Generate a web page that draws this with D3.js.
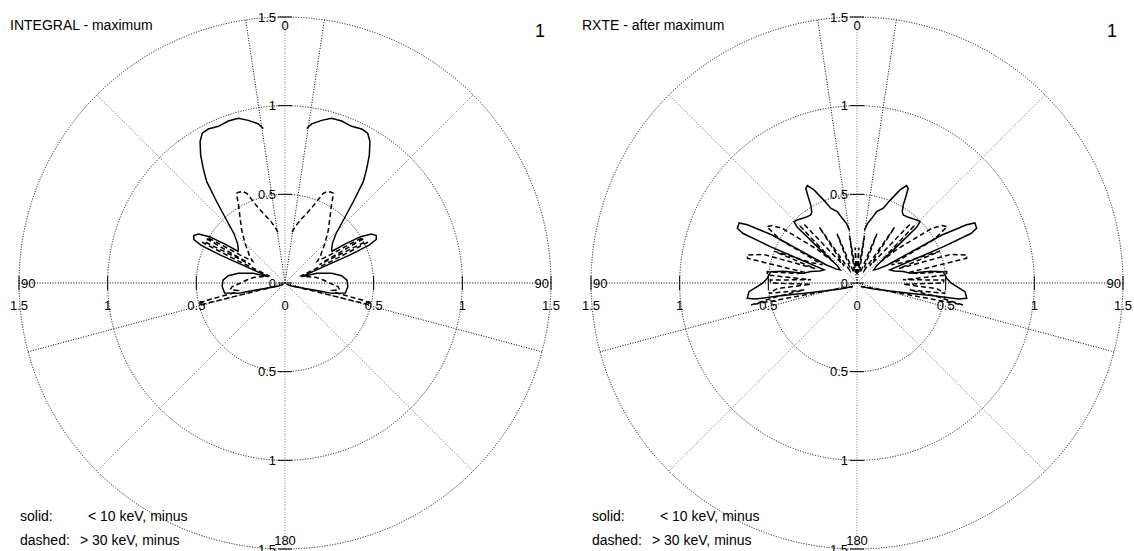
<html>
<meta http-equiv="content-type" content="text/html; charset=UTF8">
<style>
  body {margin:0; background:#fff;}
  text {font-family: "Liberation Sans", Arial, sans-serif; fill:#000;}
</style>
<body>
<svg id="svg1" width="1134" height="551"></svg>

<script src="https://cdn.jsdelivr.net/npm/d3@7"></script>
<script>
// grid values
var ringValues=[0.5,1,1.5];
var axisTicks=[0.5,1,1.5];
var spokeAngles=[0,8.5,-8.5,45,-45,90,-90,105,-105,135,-135,180];

// INTEGRAL - maximum (right half, mirrored for the left)
var intSolidAng=[8,9.5,12.7,15.8,19.3,23,26.5,28.9,31,33.4,35.5,37.7,40,43,46,50,54,56,57,58.5,60.5,62.5,64.5,65.8,66.6,67.5,69,73,78.3,82.6,87.3,93.3,99.5,102.5,103,106,115,130];
var intSolidR=[0.88,0.91,0.94,0.965,0.968,0.96,0.97,0.965,0.93,0.864,0.794,0.722,0.60,0.48,0.40,0.35,0.325,0.32,0.40,0.50,0.56,0.58,0.57,0.52,0.40,0.20,0.10,0.187,0.269,0.322,0.35,0.355,0.345,0.27,0.2,0.1,0.04,0.01];
var intDashAng=[8,10,14,17.3,20,23.1,25,27,28.5,30.4,34.2,39.3,45.2,50,53,56,58,59.5,60.5,61.2,62,62.8,63.8,64.8,66,72,80,86,90,94,97,99,101,102.5,103.5,104.5,106,115];
var intDashR=[0.29,0.32,0.37,0.41,0.46,0.55,0.57,0.575,0.575,0.52,0.452,0.386,0.318,0.27,0.25,0.22,0.30,0.50,0.51,0.25,0.22,0.50,0.52,0.30,0.10,0.12,0.18,0.22,0.25,0.30,0.31,0.27,0.30,0.45,0.50,0.48,0.15,0.03];

// RXTE - after maximum
var rxSolidAng=[8,10,12.8,15.4,19.4,21.7,24.8,27,28.4,29.5,30.7,32.5,34.2,38,41,43.5,45.8,47,47.6,48.5,52,56,59.5,60.5,62,63,65.4,66.5,67.2,68.2,72,76,79.6,81,82.5,85,87,90,92.1,94.6,97.9,99,99.3,101,110,130];
var rxSolidR=[0.30,0.34,0.374,0.417,0.447,0.50,0.578,0.616,0.607,0.56,0.51,0.475,0.464,0.47,0.48,0.49,0.496,0.46,0.30,0.15,0.12,0.14,0.20,0.55,0.70,0.746,0.742,0.70,0.53,0.20,0.22,0.27,0.304,0.42,0.49,0.50,0.506,0.53,0.563,0.611,0.625,0.58,0.45,0.30,0.10,0.03];
var rxDashAng=[0,3,6,9,12,17,22,25,30,34,37,42,45,48,50,53.8,56,58,60.6,62,66,69,71,73,75.7,77.3,78.5,81,82.8,84.9,86,88,90,91.5,94,96.7,97.5,99.5,101.7,102.5,108,130];
var rxDashR=[0.05,0.20,0.06,0.27,0.08,0.06,0.30,0.10,0.08,0.38,0.12,0.44,0.45,0.18,0.30,0.52,0.58,0.60,0.494,0.22,0.28,0.50,0.25,0.55,0.64,0.633,0.30,0.34,0.51,0.508,0.26,0.49,0.487,0.26,0.45,0.50,0.30,0.45,0.61,0.35,0.10,0.03];

var legendKeys=["solid:","dashed:"];
var legendTexts=["< 10 keV, minus","> 30 keV, minus"];

var cy=283;
var rScale=d3.scaleLinear().domain([0,1.5]).range([0,266]);
var fmt=function(v){return String(v)};
var svg=d3.select("#svg1");

var radial=d3.lineRadial()
	.angle(function(d){return d.a*Math.PI/180})
	.radius(function(d){return rScale(d.r)});

var halves=function(ang,r) {
	var right=ang.map(function(a,i){return {a:a,r:r[i]}});
	var left=ang.map(function(a,i){return {a:-a,r:r[i]}});
	return [left,right];
}

var drawPanel=function(cx,title,sA,sR,dA,dR) {
	var g=svg.append("g").attr("transform","translate("+cx+","+cy+")");
	var R=rScale(1.5);

	g.selectAll(".ring").data(ringValues).enter().append("circle")
	  .attr("r",function(d){return rScale(d)})
	  .style("fill","none").style("stroke","#000")
	  .style("stroke-width",1).style("stroke-dasharray","1,1.6");

	g.selectAll(".spoke").data(spokeAngles).enter().append("line")
	  .attr("x1",0).attr("y1",0)
	  .attr("x2",function(d){return R*Math.sin(d*Math.PI/180)})
	  .attr("y2",function(d){return -R*Math.cos(d*Math.PI/180)})
	  .style("stroke",function(d){return (d%45==0 && Math.abs(d)!=90)?"#777":"#000"})
	  .style("stroke-width",1).style("stroke-dasharray","1,1.6");

	// ticks on the horizontal axis
	var hv=axisTicks.concat(axisTicks.map(function(v){return -v}));
	g.selectAll(".htick").data(hv).enter().append("line")
	  .attr("x1",function(d){return d<0?-rScale(-d):rScale(d)})
	  .attr("x2",function(d){return d<0?-rScale(-d):rScale(d)})
	  .attr("y1",-7).attr("y2",7)
	  .style("stroke","#000").style("stroke-width",1);
	g.selectAll(".hlab").data([-1.5,-1,-0.5,0,0.5,1,1.5]).enter().append("text")
	  .attr("x",function(d){return d<0?-rScale(-d):rScale(d)})
	  .attr("y",27).attr("text-anchor","middle").style("font-size","13px")
	  .text(function(d){return fmt(Math.abs(d))});

	// ticks on the vertical axis
	var vv=[1.5,1,0.5,0,-0.5,-1,-1.5];
	g.selectAll(".vtick").data(vv).enter().append("line")
	  .attr("x1",-7).attr("x2",7)
	  .attr("y1",function(d){return d<0?rScale(-d):-rScale(d)})
	  .attr("y2",function(d){return d<0?rScale(-d):-rScale(d)})
	  .style("stroke","#000").style("stroke-width",1);
	g.selectAll(".vlab").data(vv).enter().append("text")
	  .attr("x",-9)
	  .attr("y",function(d){return (d<0?rScale(-d):-rScale(d))+4.5})
	  .attr("text-anchor","end").style("font-size","13px")
	  .text(function(d){return fmt(Math.abs(d))});

	// angle labels
	g.append("text").attr("x",0).attr("y",-R+13).attr("text-anchor","middle").style("font-size","13px").text("0");
	g.append("text").attr("x",0).attr("y",R-4).attr("text-anchor","middle").style("font-size","13px").text("180");
	g.append("text").attr("x",-R+2).attr("y",4.5).attr("text-anchor","start").style("font-size","13px").text("90");
	g.append("text").attr("x",R-2).attr("y",4.5).attr("text-anchor","end").style("font-size","13px").text("90");

	// curves
	g.selectAll(".solid").data(halves(sA,sR)).enter().append("path")
	  .attr("d",radial)
	  .style("fill","none").style("stroke","#000").style("stroke-width",1.5);
	g.selectAll(".dash").data(halves(dA,dR)).enter().append("path")
	  .attr("d",radial)
	  .style("fill","none").style("stroke","#000").style("stroke-width",1.5)
	  .style("stroke-dasharray","5,3");

	// title and panel number
	svg.append("text").attr("x",cx-275).attr("y",30).style("font-size","14px").text(title);
	svg.append("text").attr("x",cx+250).attr("y",37).style("font-size","18px").text("1");

	// legend
	svg.selectAll(null).data(legendKeys).enter().append("text")
	  .attr("x",cx-265).attr("y",function(d,i){return 521+i*24})
	  .style("font-size","14px").text(function(d){return d});
	svg.selectAll(null).data(legendTexts).enter().append("text")
	  .attr("x",function(d,i){return cx-265+(i==0?68:60)})
	  .attr("y",function(d,i){return 521+i*24})
	  .style("font-size","14px").text(function(d){return d});
}

drawPanel(285,"INTEGRAL - maximum",intSolidAng,intSolidR,intDashAng,intDashR);
drawPanel(857,"RXTE - after maximum",rxSolidAng,rxSolidR,rxDashAng,rxDashR);
</script>
</body>
</html>
